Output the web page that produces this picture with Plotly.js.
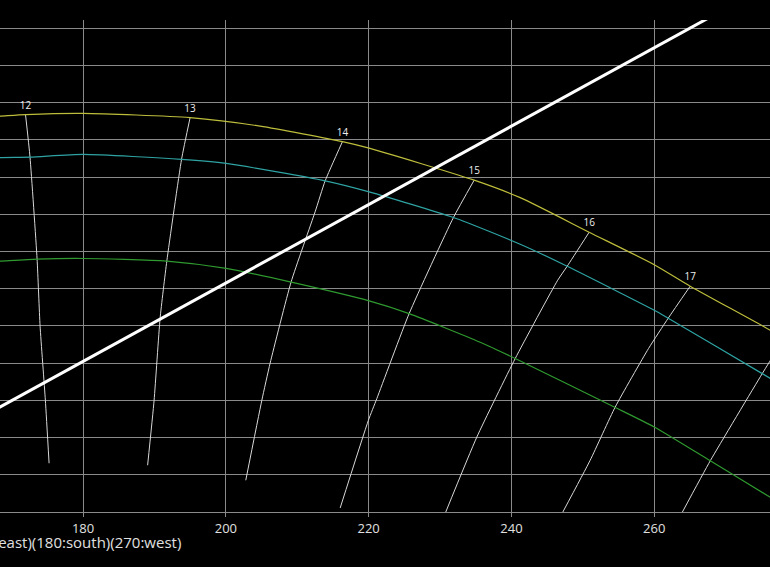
<!DOCTYPE html>
<html>
<head>
<meta charset="utf-8">
<script src="https://cdn.plot.ly/plotly-3.0.1.min.js"></script>
<style>
  html, body { margin: 0; padding: 0; background: #000; overflow: hidden; width: 770px; height: 567px; }
  #chart { position: absolute; left: -713px; top: 0; width: 1530px; height: 575px; }
</style>
</head>
<body>
<div id="chart"></div>
<script>
// Sun path curves (azimuth in degrees, altitude in degrees)
const pathHighAz  = [165.57, 168.37, 171.94, 180.00, 194.99, 204.80, 216.33, 220.07, 234.78, 241.23, 250.89, 260.00, 265.04, 276.25, 280.45];
const pathHighAlt = [53.05, 53.19, 53.39, 53.55, 52.98, 51.84, 49.76, 48.88, 44.58, 42.23, 37.59, 33.23, 30.34, 24.42, 22.00];

const pathMidAz  = [165.57, 168.37, 172.57, 180.00, 193.80, 200.04, 213.91, 220.07, 231.88, 241.23, 247.81, 260.00, 261.96, 275.13, 280.45];
const pathMidAlt = [47.41, 47.61, 47.67, 48.04, 47.37, 46.83, 44.49, 43.01, 39.57, 35.98, 33.02, 27.11, 26.04, 18.59, 15.55];

const pathLowAz  = [165.57, 168.37, 173.56, 180.00, 191.73, 200.04, 209.00, 220.07, 225.67, 235.62, 240.53, 254.40, 260.00, 267.85, 276.25, 279.05];
const pathLowAlt = [33.56, 33.70, 33.97, 34.06, 33.70, 32.72, 30.91, 28.36, 26.65, 22.81, 20.62, 14.11, 11.42, 6.88, 1.98, 0.36];

// Hour lines (analemma segments)
const hourLabels = ['12', '13', '14', '15', '16', '17', '18'];
const hour12Az  = [171.94, 172.57, 173.56, 173.98, 174.72, 175.24];
const hour12Alt = [53.39, 47.67, 33.97, 24.96, 15.01, 6.55];
const hour13Az  = [194.99, 193.80, 191.73, 190.79, 189.95, 189.04];
const hour13Alt = [52.98, 47.41, 33.70, 26.03, 15.01, 6.28];
const hour14Az  = [216.33, 213.91, 212.50, 209.14, 206.20, 205.04, 202.79];
const hour14Alt = [49.76, 44.49, 40.32, 30.91, 19.99, 15.01, 4.26];
const hour15Az  = [234.78, 231.88, 225.67, 221.15, 219.97, 216.01];
const hour15Alt = [44.58, 39.57, 26.65, 15.24, 12.33, 0.54];
const hour16Az  = [250.89, 247.81, 246.48, 240.53, 235.16, 230.80];
const hour16Alt = [37.59, 33.02, 31.14, 20.62, 10.08, 0.00];
const hour17Az  = [265.04, 261.96, 259.20, 254.54, 251.03, 247.20];
const hour17Alt = [30.34, 26.04, 21.96, 14.11, 6.95, 0.00];
const hour18Az  = [278.21, 275.13, 267.85, 263.95];
const hour18Alt = [23.35, 18.59, 6.88, 0.00];

// Straight reference line
const refLineAz  = [160, 280];
const refLineAlt = [9.7, 72.9];

// Axis ticks
const xTickVals = [80, 100, 120, 140, 160, 180, 200, 220, 240, 260, 280];
const xTickText = ['80', '100', '120', '140', '160', '180', '200', '220', '240', '260', '280'];
const xAxisTitle = '(90:east)(180:south)(270:west)';

const hourAz  = [hour12Az, hour13Az, hour14Az, hour15Az, hour16Az, hour17Az, hour18Az];
const hourAlt = [hour12Alt, hour13Alt, hour14Alt, hour15Alt, hour16Alt, hour17Alt, hour18Alt];

const traces = [];
hourAz.forEach((az, i) => {
  traces.push({
    type: 'scatter', mode: 'lines', x: az, y: hourAlt[i],
    line: { color: '#d8d8d8', width: 1, shape: 'spline', smoothing: 0.5 }, hoverinfo: 'skip', showlegend: false
  });
});
traces.push({
  type: 'scatter', mode: 'lines', x: pathLowAz, y: pathLowAlt,
  line: { color: '#2f9a2f', width: 1.2, shape: 'spline', smoothing: 0.6 }, showlegend: false
});
traces.push({
  type: 'scatter', mode: 'lines', x: pathMidAz, y: pathMidAlt,
  line: { color: '#2fa3a3', width: 1.2, shape: 'spline', smoothing: 0.6 }, showlegend: false
});
traces.push({
  type: 'scatter', mode: 'lines', x: pathHighAz, y: pathHighAlt,
  line: { color: '#bdbd3c', width: 1.2, shape: 'spline', smoothing: 0.6 }, showlegend: false
});
traces.push({
  type: 'scatter', mode: 'markers+text', xaxis: 'x2',
  x: hourAz.map(a => a[0]), y: hourAlt.map(a => a[0]), text: hourLabels,
  textposition: 'top center',
  marker: { size: 4, color: 'rgba(0,0,0,0)' },
  textfont: { family: 'Open Sans, sans-serif', size: 10, color: '#eeeeee' },
  hoverinfo: 'skip', showlegend: false
});
traces.push({
  type: 'scatter', mode: 'lines', x: refLineAz, y: refLineAlt,
  line: { color: '#ffffff', width: 3 }, showlegend: false
});

const layout = {
  width: 1530, height: 575,
  margin: { l: 70, r: 20, t: 20, b: 63 },
  paper_bgcolor: '#000000', plot_bgcolor: '#000000',
  font: { family: 'Open Sans, sans-serif', color: '#e0e0e0', size: 13 },
  showlegend: false,
  xaxis: {
    range: [78.3, 280],
    tickmode: 'array', tickvals: xTickVals, ticktext: xTickText,
    showgrid: true, gridcolor: '#8a8a8a', gridwidth: 1,
    zeroline: false,
    showline: true, linecolor: '#8a8a8a', linewidth: 1,
    ticks: 'outside', ticklen: 4, tickcolor: '#8a8a8a',
    tickfont: { size: 13, color: '#e0e0e0' },
    automargin: false
  },
  xaxis2: {
    overlaying: 'x', matches: 'x', anchor: 'y', side: 'bottom',
    range: [78.3, 280],
    showgrid: false, zeroline: false, showline: false,
    showticklabels: false, ticks: '',
    title: { text: xAxisTitle, font: { size: 15, color: '#e0e0e0' }, standoff: 25 },
    automargin: false
  },
  yaxis: {
    range: [0, 66.1],
    dtick: 5,
    showgrid: true, gridcolor: '#8a8a8a', gridwidth: 1,
    zeroline: false, showline: false,
    tickfont: { size: 13, color: '#e0e0e0' }
  }
};

Plotly.newPlot('chart', traces, layout, { displayModeBar: false, staticPlot: true });
</script>
</body>
</html>
